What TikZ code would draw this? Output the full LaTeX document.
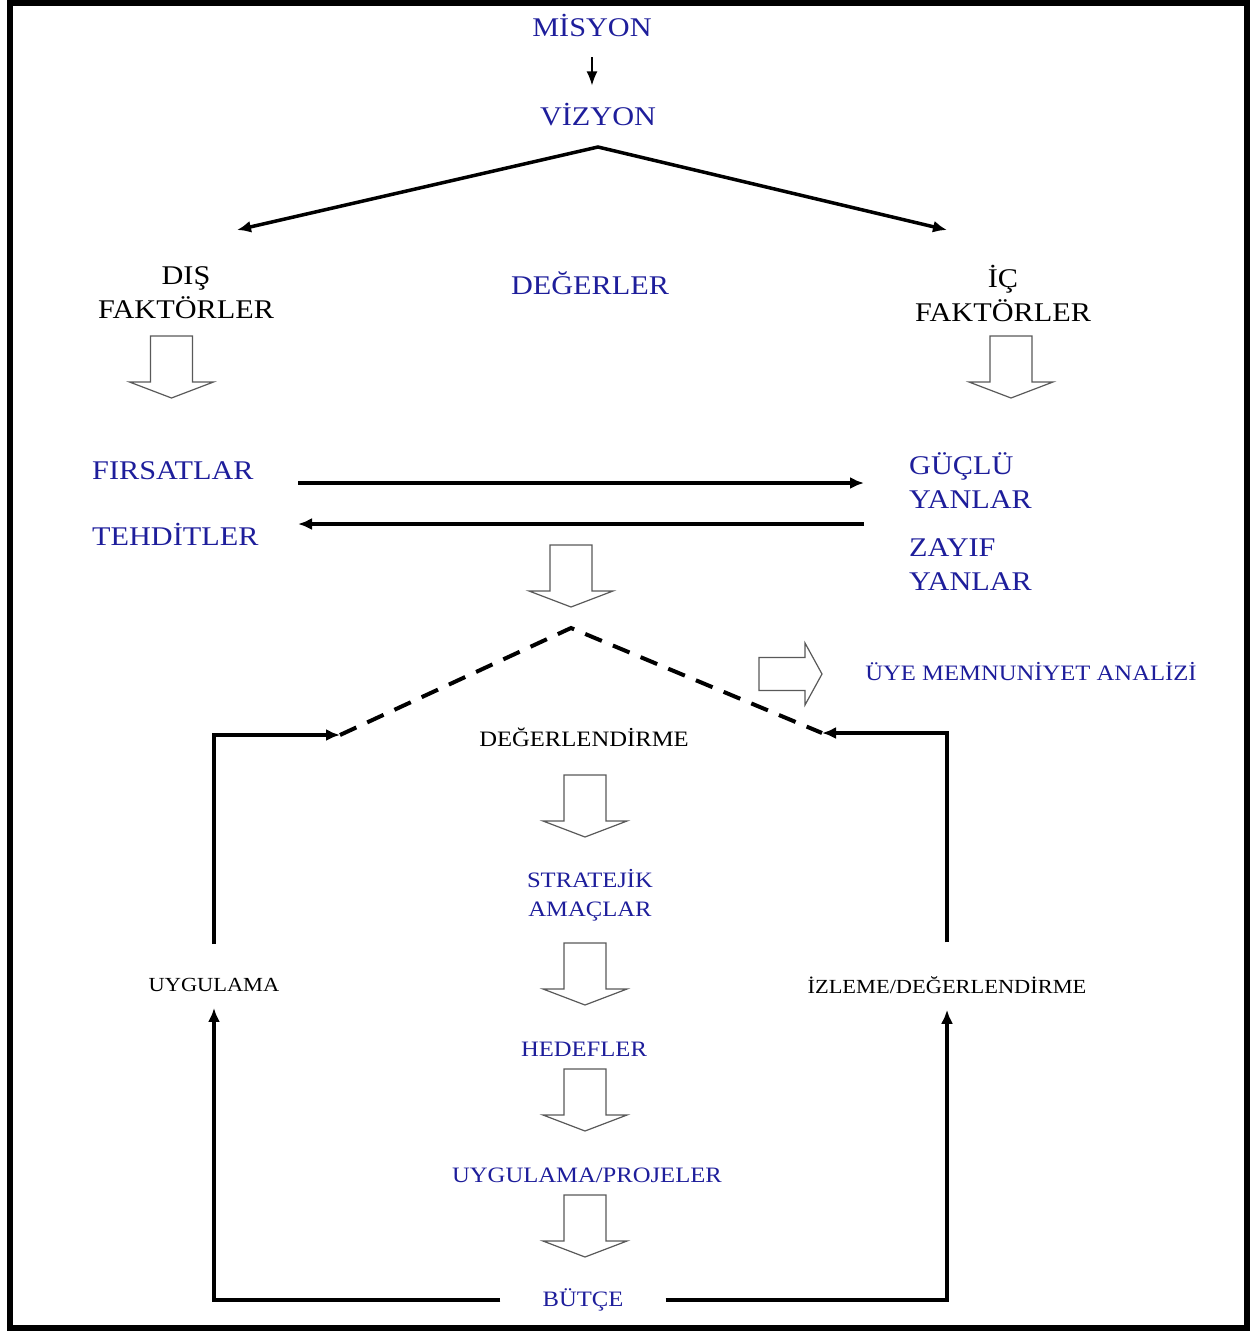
\documentclass[tikz,border=0pt]{standalone}
\usepackage{fontspec}
\setmainfont{Liberation Serif}[FakeStretch=1.12]
\usepackage{xcolor}
\usepackage{tikz}
\usetikzlibrary{positioning, arrows.meta}
\definecolor{navy}{RGB}{30,30,155}

\begin{document}
\begin{tikzpicture}[
    x=1pt, y=-1pt,
    every node/.style={inner sep=0pt, align=center},
    bigtxt/.style={font=\fontsize{27}{34}\selectfont},
    midtxt/.style={font=\fontsize{22}{29}\selectfont},
    smalltxt/.style={font=\fontsize{20}{29}\selectfont},
    bluetxt/.style={text=navy},
    arrow/.style={-{Latex[length=14pt,width=12pt]}, line width=3.5pt},
    thinarrow/.style={-{Latex[length=14pt,width=11pt]}, line width=1.6pt},
    dashline/.style={line width=4pt, dash pattern=on 18pt off 12pt},
    hollow/.style={draw=gray!70!black, line width=1.2pt, fill=white, line join=miter},
    hollowdown/.pic={\draw[hollow] (-21,0) -- (21,0) -- (21,46) -- (42,46) -- (0,62) -- (-42,46) -- (-21,46) -- cycle;},
    hollowright/.pic={\draw[hollow] (0,-16.5) -- (46,-16.5) -- (46,-31) -- (63,0) -- (46,31) -- (46,16.5) -- (0,16.5) -- cycle;}
]
\useasboundingbox (0,0) rectangle (1252,1331);
\draw[line width=6.5pt] (10,3) rectangle (1247,1328);

% top part
\node[bigtxt,bluetxt] (misyon) at (592,25) {MİSYON};
\node[bigtxt,bluetxt] (vizyon) at (598,115) {VİZYON};
\node[bigtxt] (dis) at (186,293) {DIŞ\\FAKTÖRLER};
\node[bigtxt,bluetxt] (degerler) at (590,283) {DEĞERLER};
\node[bigtxt] (ic) at (1003,293) {İÇ\\FAKTÖRLER};

\draw[thinarrow, shorten <=21pt, shorten >=18pt] (misyon.south) -- (misyon.south |- vizyon.north);

\coordinate (apex) at (598,147);
\coordinate (disend) at (237,230);
\coordinate (icend) at (947,230);
\draw[arrow, {Latex[length=14pt,width=12pt]}-{Latex[length=14pt,width=12pt]}] (disend) -- (apex) -- (icend);

\pic at (171.5,336) {hollowdown};
\pic at (1011,336) {hollowdown};

% swot
\node[bigtxt,bluetxt,anchor=west] (firsat) at (92,471) {FIRSATLAR};
\node[bigtxt,bluetxt,anchor=west] (tehdit) at (92,534) {TEHDİTLER};
\node[bigtxt,bluetxt,align=left,anchor=west] (guclu) at (909,481) {GÜÇLÜ\\YANLAR};
\node[bigtxt,bluetxt,align=left,anchor=west] (zayif) at (909,565) {ZAYIF\\YANLAR};

\coordinate (fl) at (298,483);
\coordinate (fr) at (864,483);
\coordinate (tl) at (298,524);
\coordinate (tr) at (864,524);
\draw[arrow] (fl) -- (fr);
\draw[arrow] (tr) -- (tl);

\pic at (571,545) {hollowdown};

% evaluation
\coordinate (dl) at (340,735);
\coordinate (dapex) at (571,628);
\coordinate (dr) at (822,733);
\draw[dashline] (dl) -- (dapex) -- (dr);

\pic at (759,674) {hollowright};
\node[midtxt,bluetxt] (uye) at (1031,672) {ÜYE MEMNUNİYET ANALİZİ};
\node[midtxt] (degerlendirme) at (584,737) {DEĞERLENDİRME};

\pic at (585,775) {hollowdown};
\node[midtxt,bluetxt] (stratejik) at (590,895) {STRATEJİK\\AMAÇLAR};
\pic at (585,943) {hollowdown};
\node[midtxt,bluetxt] (hedefler) at (584,1049) {HEDEFLER};
\pic at (585,1069) {hollowdown};
\node[midtxt,bluetxt] (projeler) at (587,1175) {UYGULAMA/PROJELER};
\pic at (585,1195) {hollowdown};
\node[midtxt,bluetxt] (butce) at (583,1300) {BÜTÇE};

\node[smalltxt] (uygulama) at (214,985) {UYGULAMA};
\node[smalltxt] (izleme) at (947,985) {İZLEME/DEĞERLENDİRME};

% loop
\draw[arrow, shorten <=34pt] (uygulama.north) |- (dl);
\draw[arrow, shorten <=34pt] (izleme.north) |- (dr);
\draw[arrow, shorten <=42pt, shorten >=16pt] (butce.west) -| (uygulama.south);
\draw[arrow, shorten <=42pt, shorten >=16pt] (butce.east) -| (izleme.south);

\end{tikzpicture}
\end{document}
